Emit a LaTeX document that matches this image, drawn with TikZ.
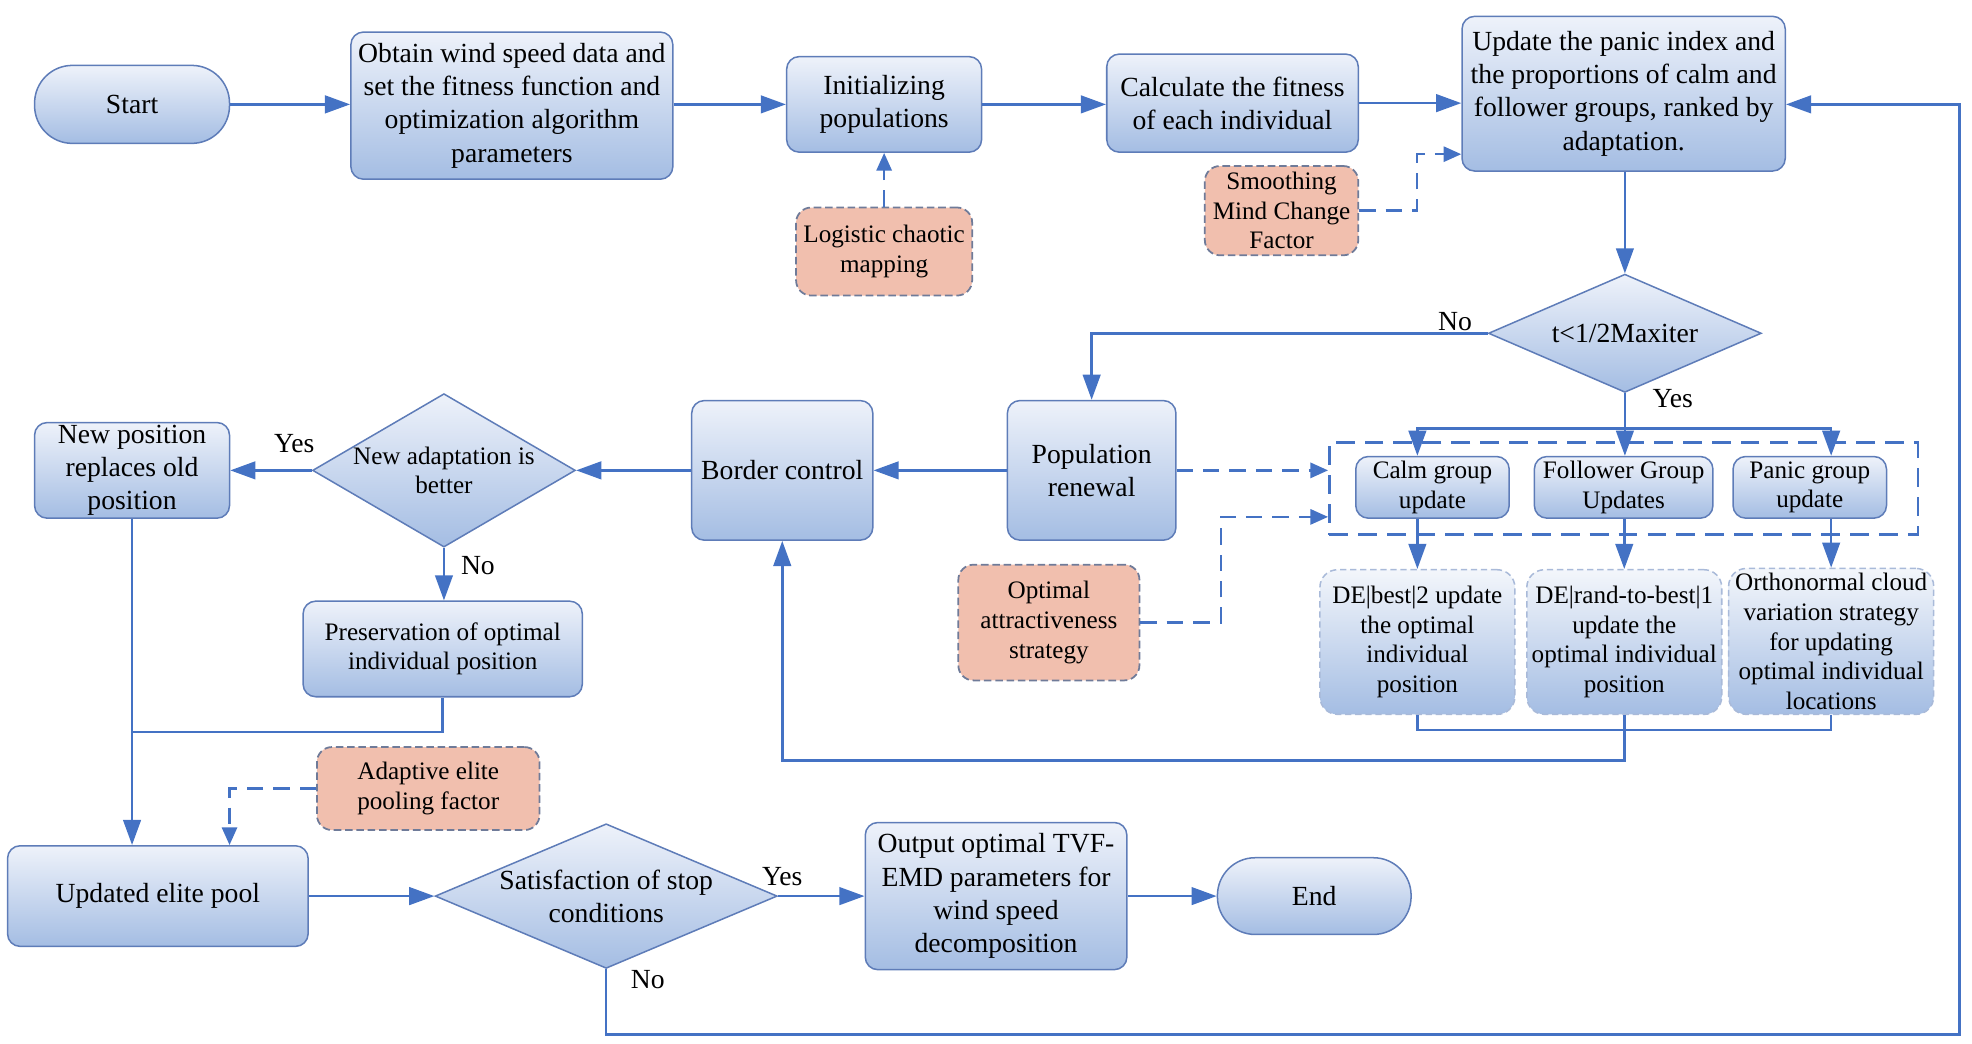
\documentclass[tikz,border=0pt]{standalone}
\usepackage{fontspec}
\setmainfont{Liberation Serif}
\usepackage{tikz}
\usepackage{xcolor}
\usetikzlibrary{arrows.meta,calc,positioning,shapes.geometric}
\definecolor{flow}{HTML}{4472C4}
\definecolor{boxline}{HTML}{5E7CB8}
\definecolor{boxtop}{HTML}{EEF2FA}
\definecolor{boxbot}{HTML}{A4BDE3}
\definecolor{salmon}{HTML}{F1BFAE}
\definecolor{auxline}{HTML}{6F7B99}
\definecolor{strattop}{HTML}{F3F6FB}
\definecolor{stratline}{HTML}{A9BAD9}
\newcommand{\flowfont}{\fontsize{11}{13.2}\selectfont}
\newcommand{\flowsmall}{\fontsize{10}{11.8}\selectfont}
\tikzset{%
	process/.style  = {draw=boxline, line width=0.6pt, rounded corners=5pt, top color=boxtop, bottom color=boxbot, align=center, font=\flowfont, inner sep=1pt},
	startstop/.style= {process, rounded corners=15pt},
	decision/.style = {diamond, draw=boxline, line width=0.6pt, top color=boxtop, bottom color=boxbot, inner sep=0pt},
	dtext/.style    = {align=center, font=\flowfont},
	factor/.style   = {draw=auxline, line width=0.7pt, dash pattern=on 3pt off 1.5pt, fill=salmon, rounded corners=6pt, align=center, font=\flowsmall, inner sep=1pt},
	strategy/.style = {draw=stratline, line width=0.6pt, dash pattern=on 2.5pt off 1.5pt, top color=strattop, bottom color=boxbot, rounded corners=7pt, align=center, font=\flowsmall, inner sep=0.5pt},
	groupbox/.style = {draw=flow, line width=1pt, dash pattern=on 7.5pt off 4pt},
	line/.style     = {draw=flow, line width=1pt},
	arrow/.style    = {line, -{Triangle[length=10pt,width=7pt]}},
	dasharrow/.style= {line, dash pattern=on 6.5pt off 4pt, -{Triangle[length=7pt,width=6pt]}},
	answer/.style   = {font=\flowfont},
}

\begin{document}
\begin{tikzpicture}[x=0.5pt, y=-0.5pt]
	\useasboundingbox (0,0) rectangle (1568,830);
	
	% first row
	\node[startstop, minimum width=77.5pt, minimum height=31pt] (start) at (105,83) {Start};
	\node[process, minimum width=128pt, minimum height=58.5pt] (obtain) at (407,84) {Obtain wind speed data and\\set the fitness function and\\optimization algorithm\\parameters};
	\node[process, minimum width=77.5pt, minimum height=38pt] (init) at (703,83) {Initializing\\populations};
	\node[process, minimum width=100pt, minimum height=39pt] (fitness) at (980,82) {Calculate the fitness\\of each individual};
	\node[process, minimum width=128.5pt, minimum height=61.5pt] (panicidx) at (1291,74.5) {Update the panic index and\\the proportions of calm and\\follower groups, ranked by\\adaptation.};
	\node[factor, minimum width=70pt, minimum height=35pt] (logistic) at (703,200) {Logistic chaotic\\mapping};
	\node[factor, minimum width=61pt, minimum height=35.5pt] (smooth) at (1019,167.5) {Smoothing\\Mind Change\\Factor};
	
	% update of the groups
	\node[decision, minimum width=108.5pt, minimum height=47pt, label={[dtext]center:t<1/2Maxiter}] (half) at (1292,265) {};
	\node[groupbox, minimum width=234pt, minimum height=36.5pt] (grp) at (1291,388.5) {};
	\node[process, font=\flowsmall, minimum width=61pt, minimum height=24.5pt] (calm) at (1139,387.5) {Calm group\\update};
	\node[process, font=\flowsmall, minimum width=71pt, minimum height=24.5pt] (follow) at (1291,387.5) {Follower Group\\Updates};
	\node[process, font=\flowsmall, minimum width=61pt, minimum height=24.5pt] (panic) at (1439,387.5) {Panic group\\update};
	\node[strategy, minimum width=77.5pt, minimum height=57.5pt] (debest) at (1127,510.5) {DE|best|2 update\\the optimal\\individual\\position};
	\node[strategy, minimum width=77.5pt, minimum height=57.5pt] (derand) at (1291.5,510.5) {DE|rand-to-best|1\\update the\\optimal individual\\position};
	\node[strategy, minimum width=81.5pt, minimum height=58pt] (cloud) at (1456,510) {Orthonormal cloud\\variation strategy\\for updating\\optimal individual\\locations};
	\node[factor, minimum width=72pt, minimum height=46pt] (attract) at (834,495) {Optimal\\attractiveness\\strategy};
	
	% second row
	\node[process, minimum width=67pt, minimum height=55.5pt] (renew) at (868,374) {Population\\renewal};
	\node[process, minimum width=72pt, minimum height=55.5pt] (border) at (622,374) {Border control};
	\node[decision, minimum width=104.5pt, minimum height=61pt, label={[dtext,font=\flowsmall]center:New adaptation is\\better}] (better) at (353,374) {};
	\node[process, minimum width=77.5pt, minimum height=38pt] (newpos) at (105,374) {New position\\replaces old\\position};
	\node[process, font=\flowsmall, minimum width=111pt, minimum height=38pt] (keep) at (352,516) {Preservation of optimal\\individual position};
	\node[factor, minimum width=88.5pt, minimum height=33pt] (elitefac) at (340.5,627) {Adaptive elite\\pooling factor};
	
	% last row
	\node[process, minimum width=119.5pt, minimum height=40pt] (pool) at (125.5,712.5) {Updated elite pool};
	\node[decision, minimum width=136pt, minimum height=57.5pt, label={[dtext]center:Satisfaction of stop\\conditions}] (stop) at (482,712.5) {};
	\node[process, minimum width=104pt, minimum height=58.5pt] (output) at (792,712.5) {Output optimal TVF-\\EMD parameters for\\wind speed\\decomposition};
	\node[startstop, minimum width=77pt, minimum height=30.5pt] (finish) at (1045,712.5) {End};
	
	\node[answer] (no1) at (1157,256) {No};
	\node[answer] (yes1) at (1330,317) {Yes};
	\node[answer] (yes2) at (234,353) {Yes};
	\node[answer] (no2) at (380,450) {No};
	\node[answer] (yes3) at (622,697) {Yes};
	\node[answer] (no3) at (515,779) {No};
	
	% connectors
	\draw[arrow] (start) -- (start -| obtain.west);
	\draw[arrow] (obtain.east |- init) -- (init);
	\draw[arrow] (init.east) -- (init.east -| fitness.west);
	\draw[arrow] (fitness.east) -- (fitness.east -| panicidx.west);
	\draw[dasharrow] (logistic) -- (init);
	\draw[dasharrow] (smooth.east) -- ++(46,0) |- ([yshift=7pt]panicidx.south west);
	\draw[arrow] (panicidx.south -| half) -- (half.north);
	
	\draw[arrow] (half.west) -| (renew.north);
	\draw[arrow] (half.south) -- (half.south |- follow.north);
	\draw[line] (half.south) -- ++(0,28) coordinate (fork);
	\draw[arrow] (fork) -| (debest.north |- calm.north);
	\draw[arrow] (fork) -| (cloud.north |- panic.north);
	\draw[arrow] (calm.south -| debest) -- (debest.north);
	\draw[arrow] (follow.south -| derand) -- (derand.north);
	\draw[arrow] (panic.south -| cloud) -- (cloud.north);
	\draw[line] (debest.south) -- ++(0,12) -| (cloud.south);
	\draw[arrow] (derand.south) -- ++(0,36) -| (border.south);
	
	\draw[arrow] (renew) -- (border);
	\draw[dasharrow] (renew.east) -- (renew.east -| grp.west);
	\draw[dasharrow] (attract.east) -- ++(64,0) |- ([yshift=7.5pt]grp.south west);
	\draw[arrow] (border.west) -- (better.east);
	\draw[arrow] (better.west) -- (newpos.east);
	\draw[arrow] (better.south) -- (better.south |- keep.north);
	
	\draw[arrow] (newpos.south) -- (newpos.south |- pool.north);
	\coordinate (merge) at (105,582);
	\draw[line] (keep.south) |- (merge);
	\draw[dasharrow] (elitefac.west) -| ([xshift=28.5pt]pool.north);
	\draw[arrow] (pool) -- (stop);
	\draw[arrow] (stop) -- (output);
	\draw[arrow] (output) -- (finish);
	\coordinate (back) at (1558,83);
	\draw[arrow] (stop.south) -- ++(0,52) -| (back) -- (back -| panicidx.east);
	
\end{tikzpicture}
\end{document}
